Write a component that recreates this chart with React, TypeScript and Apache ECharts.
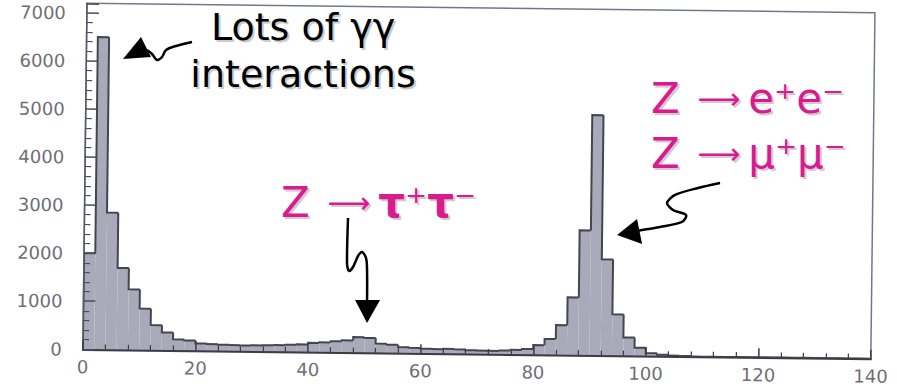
import { useEffect, useRef } from "react";
import * as echarts from "echarts";

// Histogram bins (left edges, width 2) and event counts per bin
const binStart = [
  0, 2, 4, 6, 8, 10, 12, 14, 16, 18,
  20, 22, 24, 26, 28, 30, 32, 34, 36, 38,
  40, 42, 44, 46, 48, 50, 52, 54, 56, 58,
  60, 62, 64, 66, 68, 70, 72, 74, 76, 78,
  80, 82, 84, 86, 88, 90, 92, 94, 96, 98,
  100, 102, 104, 106, 108, 110, 112, 114, 116, 118,
  120, 122, 124, 126, 128, 130, 132, 134, 136, 138,
];
const counts = [
  2000, 6500, 2850, 1700, 1260, 860, 520, 370, 230, 210,
  150, 140, 130, 125, 120, 125, 130, 135, 145, 155,
  190, 205, 230, 250, 320, 305, 190, 170, 125, 110,
  95, 90, 100, 90, 75, 70, 70, 80, 95, 115,
  200, 330, 620, 1200, 2600, 5000, 2000, 860, 380, 170,
  60, 30, 15, 10, 0, 0, 0, 0, 0, 0,
  0, 0, 0, 0, 0, 0, 0, 0, 0, 0,
];
const BIN_WIDTH = 2;

const xTicks = [0, 20, 40, 60, 80, 100, 120, 140];
const yTicks = [0, 1000, 2000, 3000, 4000, 5000, 6000, 7000];
const Y_TOP = 7200;

const PINK = "#d81b8f";
const FILL = "#a9aab9";
const EDGE = "#45454f";
const LABEL = "#6e6e76";
const FONT = "DejaVu Sans";

// The sheet sits slightly tilted; the frame is rotated about its top-left corner
const TILT_DEG = 0.683;
const OX = 87;
const OY = 3.3;

export default function App() {
  const ref = useRef<HTMLDivElement>(null);

  useEffect(() => {
    const chart = echarts.init(ref.current!, null, { renderer: "svg" });
    const bins = binStart.map((s, i) => [s, s + BIN_WIDTH, counts[i], i > 0 ? counts[i - 1] : 0]);
    const tilt = (TILT_DEG * Math.PI) / 180;

    const shadowed = (style: any, dx = 2, dy = 2, shadow = "#cbcbcb") => [
      {
        type: "text",
        silent: true,
        style: {
          ...style,
          x: style.x + dx,
          y: style.y + dy,
          fill: shadow,
          rich: style.rich
            ? Object.fromEntries(Object.entries(style.rich).map(([k, v]: any) => [k, { ...v, fill: shadow }]))
            : undefined,
        },
      },
      { type: "text", silent: true, style },
    ];

    const pinkRich = {
      n: { fontFamily: FONT, fontSize: 42, fill: PINK },
      a: { fontFamily: FONT, fontSize: 30, fill: PINK, padding: [0, 8, 0, 4] },
      g: { fontFamily: FONT, fontSize: 42, fontWeight: "bold", fill: PINK },
    };

    const annotations = [
      ...shadowed({ text: "Lots of γγ", x: 303, y: 27, fontFamily: FONT, fontSize: 38, fill: "#000", align: "center", verticalAlign: "middle" }),
      ...shadowed({ text: "interactions", x: 303, y: 74, fontFamily: FONT, fontSize: 38, fill: "#000", align: "center", verticalAlign: "middle" }),
      ...shadowed({ text: "{n|Z }{a|⟶}{n|e⁺e⁻}", x: 651, y: 98.5, rich: pinkRich, align: "left", verticalAlign: "middle" }, 2, 2, "#d3c9cf"),
      ...shadowed({ text: "{n|Z }{a|⟶}{n|μ⁺μ⁻}", x: 651, y: 153.5, rich: pinkRich, align: "left", verticalAlign: "middle" }, 2, 2, "#d3c9cf"),
      ...shadowed({ text: "{n|Z }{a|⟶}{g|τ}{n|⁺}{g|τ}{n|⁻}", x: 281, y: 202.5, rich: pinkRich, align: "left", verticalAlign: "middle" }, 2, 2, "#d3c9cf"),
      // arrow towards the low-mass peak
      { type: "polyline", silent: true, shape: { points: [[192, 42], [176, 46], [166, 50], [162, 57], [157, 60], [152, 54], [147, 50]], smooth: 0.4 }, style: { stroke: "#000", lineWidth: 2.5, fill: "none" } },
      { type: "polygon", silent: true, shape: { points: [[123, 59], [141, 37], [151, 57]] }, style: { fill: "#000" } },
      // arrow towards the tau bump
      { type: "polyline", silent: true, shape: { points: [[348, 218], [347, 264], [349, 271], [353, 267], [358, 256], [362, 252], [366, 258], [367, 270], [367, 302]], smooth: 0.3 }, style: { stroke: "#000", lineWidth: 2.5, fill: "none" } },
      { type: "polygon", silent: true, shape: { points: [[355, 300], [380, 300], [367, 323]] }, style: { fill: "#000" } },
      // arrow towards the Z peak
      { type: "polyline", silent: true, shape: { points: [[720, 183], [698, 188], [675, 195], [667, 203], [673, 210], [686, 215], [682, 222], [660, 227], [636, 231]], smooth: 0.3 }, style: { stroke: "#000", lineWidth: 2.5, fill: "none" } },
      { type: "polygon", silent: true, shape: { points: [[617, 235], [637, 219], [642, 244]] }, style: { fill: "#000" } },
    ];

    chart.setOption({
      animation: false,
      backgroundColor: "#fff",
      grid: {
        left: OX,
        top: OY,
        width: 788,
        height: 346,
        show: true,
        backgroundColor: "#fff",
        borderColor: "#6f7890",
        borderWidth: 1.5,
      },
      xAxis: {
        type: "value",
        min: xTicks[0],
        max: xTicks[xTicks.length - 1],
        interval: xTicks[1] - xTicks[0],
        z: 3,
        axisLine: { show: true, lineStyle: { color: "#3c3c46", width: 2 } },
        axisTick: { show: true, inside: true, length: 9, lineStyle: { color: "#3c3c46", width: 1.5 } },
        minorTick: { show: true, splitNumber: 5, length: 5, lineStyle: { color: "#3c3c46", width: 1.2 } },
        splitLine: { show: false },
        axisLabel: { color: LABEL, fontFamily: FONT, fontSize: 18, margin: 8.5, formatter: (v: number) => String(v) },
      },
      yAxis: {
        type: "value",
        min: yTicks[0],
        max: Y_TOP,
        interval: yTicks[1] - yTicks[0],
        z: 3,
        axisLine: { show: true, lineStyle: { color: "#555a66", width: 1.5 } },
        axisTick: { show: true, inside: true, length: 12, lineStyle: { color: "#4a4e5a", width: 1.5 } },
        minorTick: { show: true, splitNumber: 5, length: 6, lineStyle: { color: "#4a4e5a", width: 1.2 } },
        splitLine: { show: false },
        axisLabel: { color: LABEL, fontFamily: FONT, fontSize: 18, margin: 21, showMaxLabel: false, formatter: (v: number) => String(v) },
      },
      series: [
        {
          type: "custom",
          clip: true,
          encode: { x: [0, 1], y: 2 },
          data: bins,
          renderItem: (_params: any, api: any) => {
            const x0 = api.value(0);
            const x1 = api.value(1);
            const base = api.coord([x0, 0]);
            const top = api.coord([x1, api.value(2)]);
            const prev = api.coord([x0, api.value(3)]);
            return {
              type: "group",
              children: [
                {
                  type: "rect",
                  shape: { x: base[0], y: top[1], width: top[0] - base[0], height: base[1] - top[1] },
                  style: { fill: FILL },
                },
                {
                  type: "polyline",
                  shape: { points: [[base[0], prev[1]], [base[0], top[1]], [top[0], top[1]]] },
                  style: { stroke: EDGE, lineWidth: 2, fill: "none" },
                },
              ],
            };
          },
        },
      ],
      graphic: [
        {
          type: "group",
          originX: OX,
          originY: OY,
          rotation: tilt,
          children: annotations,
        },
      ],
    });

    return () => chart.dispose();
  }, []);

  return (
    <div style={{ position: "absolute", left: 0, top: 0, width: 897, height: 390, overflow: "hidden", background: "#fff" }}>
      <div
        ref={ref}
        style={{
          position: "absolute",
          left: 0,
          top: 0,
          width: 897,
          height: 390,
          transform: `rotate(${TILT_DEG}deg)`,
          transformOrigin: `${OX}px ${OY}px`,
        }}
      />
    </div>
  );
}
